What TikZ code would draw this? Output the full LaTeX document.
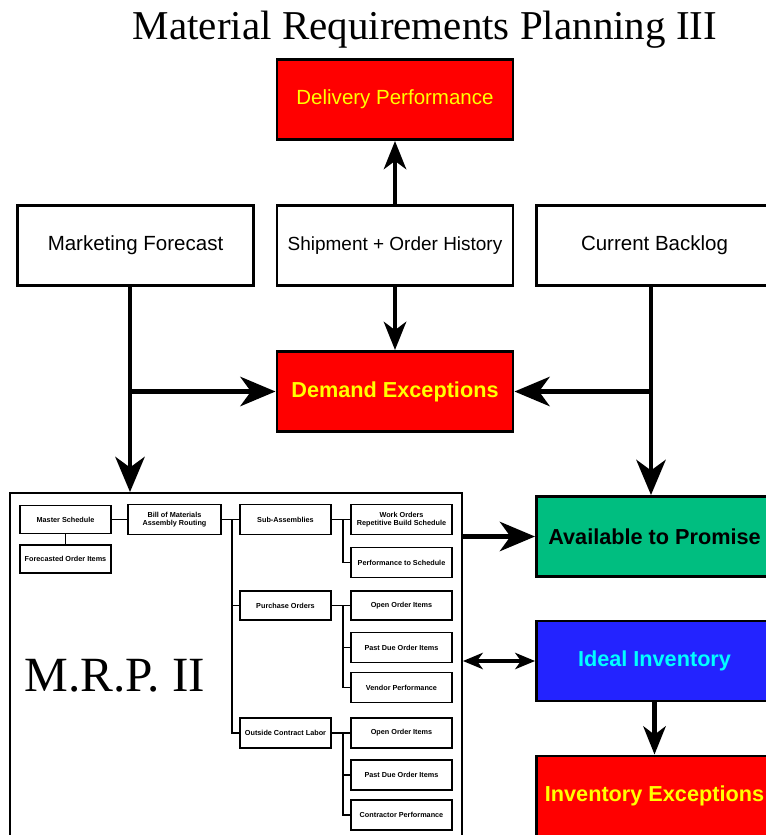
\documentclass[tikz,border=0pt]{standalone}
\usepackage{fontspec}
\setmainfont{Liberation Serif}
\newfontfamily\boxfont{Liberation Sans}
\usetikzlibrary{arrows.meta}
\definecolor{mrpred}{RGB}{255,0,0}
\definecolor{mrpyellow}{RGB}{255,255,0}
\definecolor{mrpgreen}{RGB}{0,190,128}
\definecolor{mrpblue}{RGB}{35,35,255}
\definecolor{mrpcyan}{RGB}{0,255,255}
\tikzset{
  bigbox/.style={draw, line width=2.5pt, minimum width=7.08cm, minimum height=2.4cm,
    inner sep=0pt, font=\boxfont\fontsize{17.5}{20}\selectfont},
  redbox/.style={bigbox, fill=mrpred, text=mrpyellow},
  boldtext/.style={font=\boxfont\bfseries\fontsize{18.5}{20}\selectfont},
  smallbox/.style={draw, line width=1.4pt, minimum width=2.73cm, minimum height=0.84cm,
    inner sep=1pt, align=center, font=\boxfont\bfseries\fontsize{6.2}{6.8}\selectfont},
  flow/.style={line width=4.2pt, -{Stealth[length=30pt, width=25pt, inset=9pt]}},
  shortflow/.style={line width=4.2pt, -{Stealth[length=24pt, width=19pt, inset=7pt]}},
  bothflow/.style={line width=2.6pt, {Stealth[length=17pt, width=14pt, inset=5pt]}-{Stealth[length=17pt, width=14pt, inset=5pt]}},
  link/.style={line width=1.3pt}
}
\begin{document}
\begin{tikzpicture}[x=0.03cm, y=-0.03cm]
\useasboundingbox (0,0) rectangle (766,835);
\node (title) at (425,30) {\fontsize{35}{38}\selectfont Material Requirements Planning III};
% top row
\node[redbox] (deliv) at (395,99.5) {Delivery Performance};
\node[bigbox] (mkt) at (135.5,245.5) {Marketing Forecast};
\node[bigbox, font=\boxfont\fontsize{16.2}{20}\selectfont] (ship) at (395,245.5) {Shipment + Order History};
\node[bigbox] (backlog) at (654.5,245.5) {Current Backlog};
\node[redbox, boldtext] (demand) at (395,391.5) {Demand Exceptions};
% right column
\node[bigbox, fill=mrpgreen, boldtext] (atp) at (654.5,536.5) {Available to Promise};
\node[bigbox, fill=mrpblue, text=mrpcyan, boldtext] (ideal) at (654.5,661) {Ideal Inventory};
\node[redbox, boldtext] (invex) at (654.5,796) {Inventory Exceptions};
% M.R.P. II frame
\node[draw, line width=1.6pt, minimum width=13.56cm, minimum height=10.8cm, inner sep=0pt] (mrp) at (236,673) {};
\node (mrplabel) at (115,676) {\fontsize{42}{46}\selectfont M.R.P. II};
% small boxes
\node[smallbox] (ms) at (65.5,519.5) {Master Schedule};
\node[smallbox] (fo) at (65.5,559) {Forecasted Order Items};
\node[smallbox, minimum width=2.79cm, minimum height=0.9cm] (bom) at (174.5,519.5) {Bill of Materials\\Assembly Routing};
\node[smallbox, minimum height=0.9cm] (sa) at (285.5,519.5) {Sub-Assemblies};
\node[smallbox, minimum height=0.87cm] (po) at (285.5,605.5) {Purchase Orders};
\node[smallbox, minimum height=0.9cm] (ocl) at (285.5,733) {Outside Contract Labor};
\node[smallbox, minimum width=3.03cm, minimum height=0.9cm] (wo) at (401.5,519.5) {Work Orders\\Repetitive Build Schedule};
\node[smallbox, minimum width=3.03cm, minimum height=0.9cm] (pts) at (401.5,562.5) {Performance to Schedule};
\node[smallbox, minimum width=3.03cm, minimum height=0.87cm] (po1) at (401.5,605.5) {Open Order Items};
\node[smallbox, minimum width=3.03cm, minimum height=0.9cm] (po2) at (401.5,647.5) {Past Due Order Items};
\node[smallbox, minimum width=3.03cm, minimum height=0.9cm] (po3) at (401.5,687.5) {Vendor Performance};
\node[smallbox, minimum width=3.03cm, minimum height=0.9cm] (oc1) at (401.5,733) {Open Order Items};
\node[smallbox, minimum width=3.03cm, minimum height=0.9cm] (oc2) at (401.5,775) {Past Due Order Items};
\node[smallbox, minimum width=3.03cm, minimum height=0.9cm] (oc3) at (401.5,815) {Contractor Performance};
% tree lines
\draw[link] (ms) -- (fo);
\draw[link] (ms) -- (bom);
\draw[link] (bom) -- (sa);
\coordinate (trunk) at (232,519.5);
\draw[link] (trunk) |- (po.west); %purchase
\draw[link] (trunk) |- (ocl.west); %contract
\draw[link] (sa) -- (wo);
\path (sa.east) ++(11,0) coordinate (sajoin);
\draw[link] (sajoin) |- (pts.west);
\draw[link] (po) -- (po1);
\path (po.east) ++(11,0) coordinate (pojoin);
\draw[link] (pojoin) |- (po2.west);
\draw[link] (pojoin) |- (po3.west);
\draw[link] (ocl) -- (oc1);
\path (ocl.east) ++(11,0) coordinate (ocjoin);
\draw[link] (ocjoin) |- (oc2.west);
\draw[link] (ocjoin) |- (oc3.west);
% arrows
\draw[shortflow] (ship) -- (deliv);
\draw[shortflow] (ship) -- (demand);
\coordinate (mktdown) at (130,286);
\draw[flow] (mktdown) -- (mktdown |- mrp.north); %marketing to MRP
\draw[flow] (mktdown |- demand.west) -- (demand.west);
\coordinate (logdown) at (651,286);
\draw[flow] (logdown) -- (logdown |- atp.north); %backlog to ATP
\draw[flow] (logdown |- demand.east) -- (demand.east);
\draw[flow] (mrp.east |- atp.west) -- (atp.west);
\draw[bothflow] (mrp.east |- ideal.west) -- (ideal.west);
\draw[shortflow] (ideal) -- (invex);
\end{tikzpicture}
\end{document}
